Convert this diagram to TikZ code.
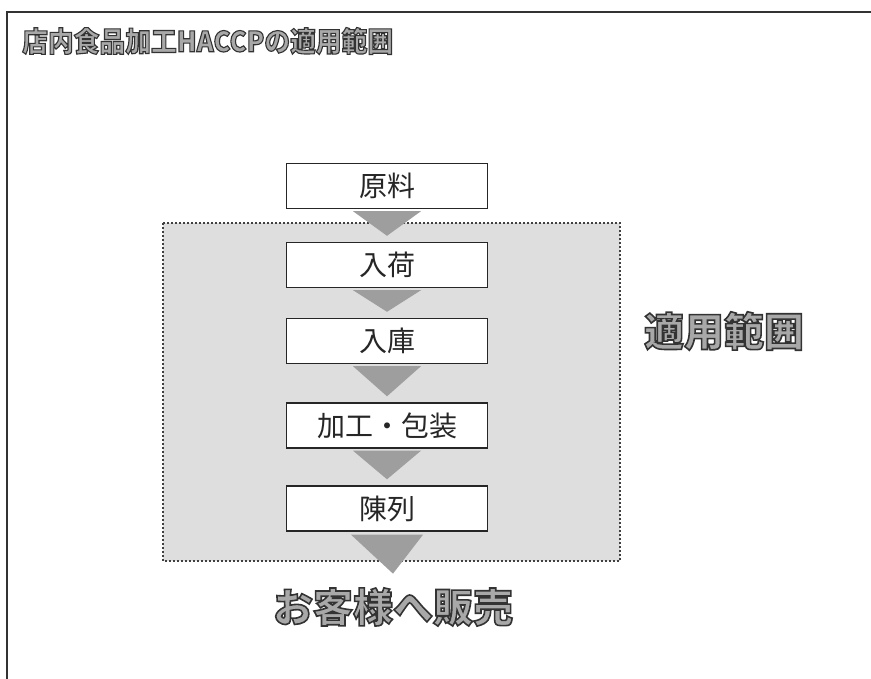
\documentclass[tikz,border=0pt]{standalone}
\usepackage{fontspec}
\usetikzlibrary{calc}
\newfontfamily\jp{Noto Sans CJK JP}
\newfontfamily\jpo{Noto Sans CJK JP}[FakeBold=4]
\newfontfamily\jpt{Noto Sans CJK JP}[FakeBold=4,FakeStretch=0.92]
\newcommand{\outlined}[1]{\special{pdf:bcolor [0.66] [0.2]}#1\special{pdf:ecolor}}
\tikzset{
  stepbox/.style={draw=black!85, line width=1.4pt, fill=white, minimum width=201pt, minimum height=45pt, inner sep=0pt, font=\jp\fontsize{28}{30}\selectfont, text=black!85},
  flowarrow/.style={fill=black!38, draw=none},
  bigtitle/.style={inner sep=0pt, font=\jpt\bfseries\fontsize{28}{30}\selectfont},
  biglabel/.style={inner sep=0pt, font=\jpo\bfseries\fontsize{40}{44}\selectfont},
  scopearea/.style={fill=black!13, draw=black!75, line width=1.8pt, dash pattern=on 1.8pt off 2.2pt}
}
\begin{document}
\begin{tikzpicture}[x=1pt,y=-1pt]
\useasboundingbox (0,0) rectangle (871,679);
% frame (top and left edges)
\draw[black!80, line width=1.3pt] (7,679) -- (7,12) -- (871,12);
% title
\node[bigtitle, anchor=west] (title) at (22,41) {\outlined{店内食品加工HACCPの適用範囲}};
% scope area
\draw[scopearea] (163,223) rectangle (620,561);
\node[biglabel] (scope) at (724,331) {\outlined{適用範囲}};
% steps
\node[stepbox] (s1) at (387,186) {原料};
\node[stepbox] (s2) at (387,265) {入荷};
\node[stepbox] (s3) at (387,341) {入庫};
\node[stepbox] (s4) at (387,425.5) {加工・包装};
\node[stepbox] (s5) at (387,508.5) {陳列};
\node[biglabel] (sale) at (393,607) {\outlined{お客様へ販売}};
% arrows
\foreach \a/\b in {s1/s2,s2/s3,s3/s4,s4/s5}{
  \fill[flowarrow] ($(\a.south)+(-34,2)$) -- ($(\a.south)+(34,2)$) -- ($(\b.north)+(0,-6)$) -- cycle;
}
\fill[flowarrow] ($(s5.south)+(-36,3)$) -- ($(s5.south)+(36,3)$) -- ($(sale.north)+(0,-14)$) -- cycle;
\end{tikzpicture}
\end{document}
